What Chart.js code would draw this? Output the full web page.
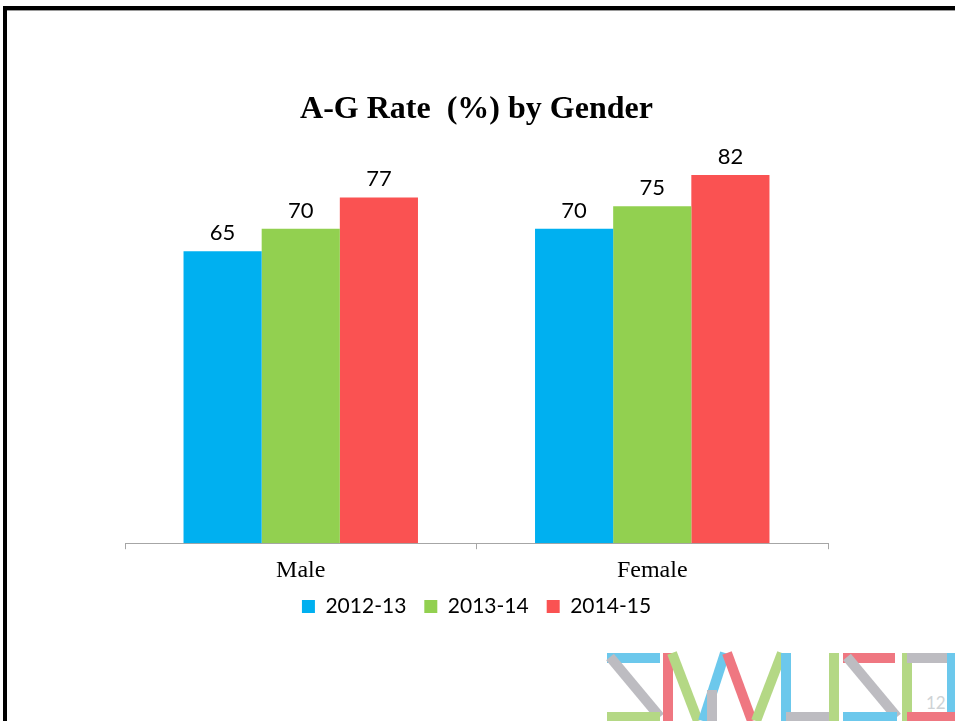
<!DOCTYPE html>
<html>
<head>
<meta charset="utf-8">
<script src="https://cdn.jsdelivr.net/npm/chart.js@4"></script>
<style>
  html, body { margin: 0; padding: 0; background: #fff; }
  body { width: 955px; height: 721px; position: relative; overflow: hidden; }
  #frame { position: absolute; left: 3px; top: 6px; width: 970px; height: 730px;
           border-top: 4px solid #000; border-left: 4px solid #000; }
  #frame::after { content: ""; position: absolute; left: 0; right: 0; top: 0; height: 1px; background: #9a9a9a; }
  #wrap { position: absolute; left: 0; top: 0; width: 955px; height: 721px; }
  #logo { position: absolute; left: 600px; top: 650px; }
  #page { position: absolute; left: 926px; top: 692px; font: 17px Lato, "Open Sans", sans-serif; color: #cfd3d6; }
</style>
</head>
<body>
<div id="frame"></div>
<svg id="logo" width="355" height="71" viewBox="600 650 355 71">
  <g stroke-width="10" fill="none" stroke-linecap="butt" opacity="0.75">
    <line x1="607" y1="658" x2="660" y2="658" stroke="#3cb6e6"/>
    <line x1="610" y1="657" x2="660" y2="717" stroke="#a7a6ad"/>
    <line x1="607" y1="717" x2="660" y2="717" stroke="#9ccb5d"/>
    <line x1="668" y1="653" x2="668" y2="721" stroke="#ea4a57"/>
    <line x1="672" y1="653" x2="698" y2="721" stroke="#9ccb5d"/>
    <line x1="703" y1="721" x2="725" y2="653" stroke="#3cb6e6"/>
    <line x1="712" y1="690" x2="712" y2="721" stroke="#a7a6ad"/>
    <line x1="727" y1="653" x2="752" y2="721" stroke="#ea4a57"/>
    <line x1="756" y1="721" x2="782" y2="653" stroke="#9ccb5d"/>
    <line x1="786" y1="653" x2="786" y2="721" stroke="#3cb6e6"/>
    <line x1="786" y1="717" x2="834" y2="717" stroke="#a7a6ad"/>
    <line x1="834" y1="653" x2="834" y2="721" stroke="#9ccb5d"/>
    <line x1="843" y1="658" x2="895" y2="658" stroke="#ea4a57"/>
    <line x1="847" y1="657" x2="897" y2="717" stroke="#a7a6ad"/>
    <line x1="843" y1="717" x2="897" y2="717" stroke="#3cb6e6"/>
    <line x1="907" y1="653" x2="907" y2="721" stroke="#9ccb5d"/>
    <line x1="907" y1="658" x2="955" y2="658" stroke="#a7a6ad"/>
    <line x1="952" y1="653" x2="952" y2="721" stroke="#3cb6e6"/>
    <line x1="907" y1="717" x2="955" y2="717" stroke="#ea4a57"/>
  </g>
</svg>
<div id="page">12</div>
<div id="wrap"><canvas id="chart" width="955" height="721"></canvas></div>
<script>
const categories = ["Male", "Female"];
const years = ["2012-13", "2013-14", "2014-15"];
const rate201213 = [65, 70];
const rate201314 = [70, 75];
const rate201415 = [77, 82];
const colors = ["#00b0f0", "#92d050", "#fa5252"];

const numFont = 'Lato, "Open Sans", sans-serif';
const serifFont = '"Liberation Serif", "Times New Roman", serif';

// value labels above each bar
const barLabels = {
  id: "barLabels",
  afterDatasetsDraw(chart) {
    const ctx = chart.ctx;
    ctx.save();
    ctx.font = "22px " + numFont;
    ctx.fillStyle = "#000";
    ctx.textAlign = "center";
    ctx.textBaseline = "alphabetic";
    chart.data.datasets.forEach((ds, i) => {
      chart.getDatasetMeta(i).data.forEach((bar, j) => {
        ctx.fillText(String(ds.data[j]), bar.x, bar.y - 11);
      });
    });
    ctx.restore();
  },
};

// pull the legend up closer to the category labels
const legendNudge = {
  id: "legendNudge",
  beforeDraw(chart) {
    const lg = chart.legend;
    if (lg && !lg._nudged) {
      lg.top -= 14;
      lg.bottom -= 14;
      lg._nudged = true;
    }
  },
};

const series = [rate201213, rate201314, rate201415];

new Chart(document.getElementById("chart").getContext("2d"), {
  type: "bar",
  data: {
    labels: categories,
    datasets: years.map((y, i) => ({
      label: y,
      data: series[i],
      backgroundColor: colors[i],
      borderWidth: 0,
      categoryPercentage: 0.667,
      barPercentage: 1.0,
    })),
  },
  plugins: [barLabels, legendNudge],
  options: {
    responsive: false,
    animation: false,
    layout: { padding: { left: 125, right: 127, top: 0, bottom: 80 } },
    plugins: {
      tooltip: { enabled: false },
      title: {
        display: true,
        text: "A-G Rate  (%) by Gender",
        color: "#000",
        font: { family: serifFont, size: 32, weight: "bold" },
        padding: { top: 91, bottom: 9.6 },
      },
      legend: {
        position: "bottom",
        labels: {
          boxWidth: 13,
          boxHeight: 13,
          padding: 18,
          color: "#000",
          font: { family: numFont, size: 21 },
        },
      },
    },
    scales: {
      x: {
        grid: { display: true, drawOnChartArea: false, drawTicks: true, tickLength: 6, color: "#a6a6a6", offset: true },
        border: { display: true, color: "#a6a6a6", width: 1 },
        ticks: { color: "#000", padding: 7, font: { family: serifFont, size: 24 } },
      },
      y: {
        display: false,
        min: 0,
        max: 90,
      },
    },
  },
});
</script>
</body>
</html>
